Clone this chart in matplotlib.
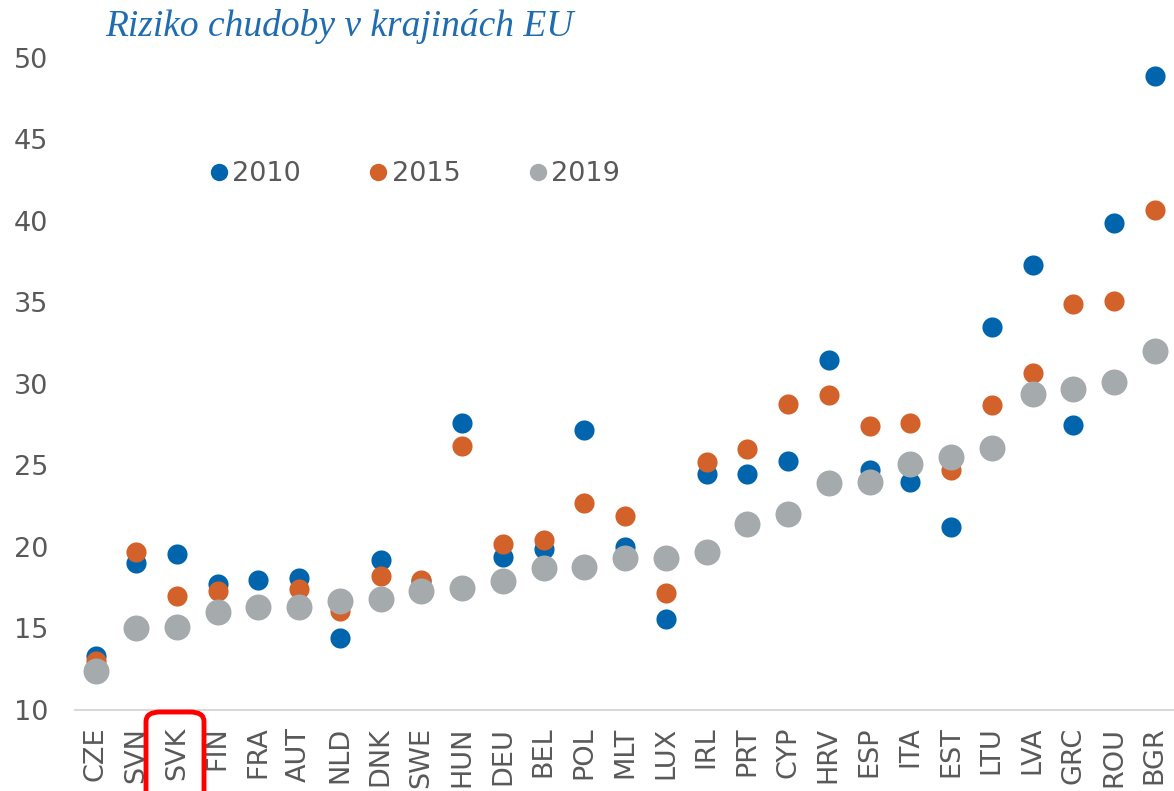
import matplotlib.pyplot as plt
from matplotlib.lines import Line2D
from matplotlib.patches import FancyBboxPatch

countries = ['CZE', 'SVN', 'SVK', 'FIN', 'FRA', 'AUT', 'NLD', 'DNK', 'SWE', 'HUN',
             'DEU', 'BEL', 'POL', 'MLT', 'LUX', 'IRL', 'PRT', 'CYP', 'HRV', 'ESP',
             'ITA', 'EST', 'LTU', 'LVA', 'GRC', 'ROU', 'BGR']
y2010 = [13.3, 19.0, 19.6, 17.7, 18.0, 18.1, 14.4, 19.2, 17.9, 27.6,
         19.4, 19.9, 27.2, 20.0, 15.6, 24.5, 24.5, 25.3, 31.5, 24.7,
         24.0, 21.2, 33.5, 37.3, 27.5, 39.9, 48.9]
y2015 = [13.0, 19.7, 17.0, 17.3, 16.4, 17.4, 16.1, 18.2, 18.0, 26.2,
         20.2, 20.4, 22.7, 21.9, 17.2, 25.2, 26.0, 28.8, 29.3, 27.4,
         27.6, 24.7, 28.7, 30.7, 34.9, 35.1, 40.7]
y2019 = [12.4, 15.0, 15.1, 16.0, 16.3, 16.3, 16.7, 16.8, 17.3, 17.5,
         17.9, 18.7, 18.8, 19.3, 19.3, 19.7, 21.4, 22.0, 23.9, 24.0,
         25.1, 25.5, 26.1, 29.4, 29.7, 30.1, 32.0]

BLUE = '#0065AD'
ORANGE = '#D2622A'
GRAY = '#A5AAAD'
TXT = '#595959'

plt.rcParams['font.family'] = ['DejaVu Sans']

fig = plt.figure(figsize=(11.74, 7.91), dpi=100)
ax = fig.add_axes([0.064, 0.1024, 0.937, 0.8243])

x = range(len(countries))
ax.scatter(x, y2010, s=210, color=BLUE, zorder=3, linewidths=0)
ax.scatter(x, y2015, s=210, color=ORANGE, zorder=4, linewidths=0)
ax.scatter(x, y2019, s=350, color=GRAY, zorder=5, linewidths=0)

ax.set_xlim(-0.5, len(countries) - 0.5)
ax.set_ylim(10, 50)
ax.set_yticks(range(10, 51, 5))
ax.set_xticks(list(x))
ax.set_xticklabels(countries, rotation=90)
ax.tick_params(axis='both', length=0, labelsize=19.5, colors=TXT)
ax.tick_params(axis='y', pad=19.5)
ax.tick_params(axis='x', pad=12)

for side in ['top', 'right', 'left']:
    ax.spines[side].set_visible(False)
ax.spines['bottom'].set_color('#D9D9D9')
ax.spines['bottom'].set_linewidth(1.5)

handles = [Line2D([], [], marker='o', linestyle='', markersize=12.5, color=c, markeredgewidth=0)
           for c in (BLUE, ORANGE, GRAY)]
leg = ax.legend(handles, ['2010', '2015', '2019'], ncol=3, frameon=False,
                loc='center left', bbox_to_anchor=(0.101, 0.822),
                fontsize=19.5, handlelength=0.6, handletextpad=0.2, columnspacing=2.55)
for t in leg.get_texts():
    t.set_color(TXT)

fig.text(0.0895, 0.966, 'Riziko chudoby v krajinách EU', fontsize=27, style='italic',
         family='Liberation Serif', color='#1F6CB0', va='center', ha='left')

box = FancyBboxPatch((146 / 1174, -0.02), 58 / 1174, (791 - 712) / 791 + 0.02,
                     boxstyle='round,pad=0,rounding_size=0.012',
                     transform=fig.transFigure, fill=False, edgecolor='#FF0000',
                     linewidth=3.5, clip_on=False)
fig.patches.append(box)

fig.savefig('out.png', dpi=100)
